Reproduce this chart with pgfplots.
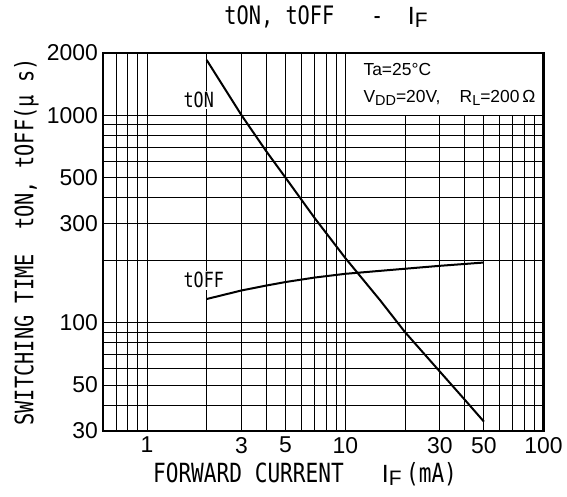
\documentclass[border=0pt]{standalone}
\usepackage{fontspec}
\setmainfont{Liberation Sans}
\newfontfamily\gothic[FakeStretch=0.8]{DejaVu Sans Mono}
\usepackage{pgfplots}
\pgfplotsset{compat=1.18}
\newcommand\fs[1]{\fontsize{#1}{#1}\selectfont}
\newcommand\IF{{\rmfamily\fs{25}I\raisebox{-3bp}{\fs{21}F}}}

% switching times
\pgfplotstableread{
IF    ton
2     1850
3     1000
4     670
5     500
7     320
10    205
15    128
20    90
30    58
40    42.5
50    33.3
}\ton
\pgfplotstableread{
IF    toff
2     130
2.5   137
3     143
4     151
5     157
7     165
10    172
20    182
30    188
50    195
}\toff

\begin{document}
\begin{tikzpicture}
\begin{axis}[
  at={(103bp,66bp)}, anchor=south west,
  scale only axis, width=440.6bp, height=378bp,
  xmode=log, ymode=log,
  xmin=0.6, xmax=100, ymin=30, ymax=2000,
  xtick={0.7,0.8,0.9,1,2,3,4,5,6,7,8,9,10,20,30,40,50,60,70,80,90,100},
  xticklabels={,,,1,,3,,5,,,,,10,,30,,50,,,,,100},
  ytick={30,40,50,60,70,80,90,100,200,300,400,500,600,700,800,900,1000,2000},
  yticklabels={30,,50,,,,,100,,300,,500,,,,,1000,2000},
  grid=major, major grid style={black, line width=0.9bp},
  major tick length=0pt, minor tick length=0pt,
  axis line style={line width=2.6bp},
  tick label style={font=\fs{23}, inner sep=0pt},
  xticklabel style={anchor=north, yshift=-6bp},
  yticklabel style={anchor=east, xshift=-5bp},
  clip=false,
  title={\gothic\fs{25.5}tON, tOFF\ \ \ -\ \ \IF},
  title style={at={(axis description cs:0.506,1.059)}, anchor=base, inner sep=0pt},
  xlabel={\gothic\fs{26.5}FORWARD CURRENT\ \ \ \IF\,(mA)},
  xlabel style={at={(axis description cs:0.4585,-0.135)}, anchor=base, inner sep=0pt},
  ylabel={\gothic\fs{25.5}SWITCHING TIME\ \ tON, tOFF(μ\ s)},
  ylabel style={at={(axis description cs:-0.1736,0.5)}, anchor=center, inner sep=0pt},
]
\addplot[black, line width=2bp, no markers] table[x=IF, y=ton] {\ton};
\addplot[black, line width=2bp, no markers] table[x=IF, y=toff] {\toff};

\node[anchor=west, fill=white, inner sep=1.5bp, font=\gothic\fs{21}] at (axis cs:1.5,1187) {tON};
\node[anchor=west, fill=white, inner sep=1.5bp, font=\gothic\fs{21}] at (axis cs:1.5,160) {tOFF};

\draw[line width=0.9bp, fill=white] (axis cs:10,1000) rectangle (axis cs:100,2000);
\node[anchor=base west, inner sep=0pt, font=\fs{17.5}] at (axis cs:12.33,1549) {Ta=25°C};
\node[anchor=base west, inner sep=0pt, font=\fs{17.5}] at (axis cs:12.33,1148)
  {V\raisebox{-2.5bp}{\fs{14.5}DD}=20V,\hspace{1.1em}R\raisebox{-2.5bp}{\fs{14.5}L}=200\,Ω};

\draw[line width=2.6bp] (rel axis cs:0,0) rectangle (rel axis cs:1,1);
\end{axis}
\pgfresetboundingbox
\useasboundingbox (0,0) rectangle (567bp,497bp);
\end{tikzpicture}
\end{document}
